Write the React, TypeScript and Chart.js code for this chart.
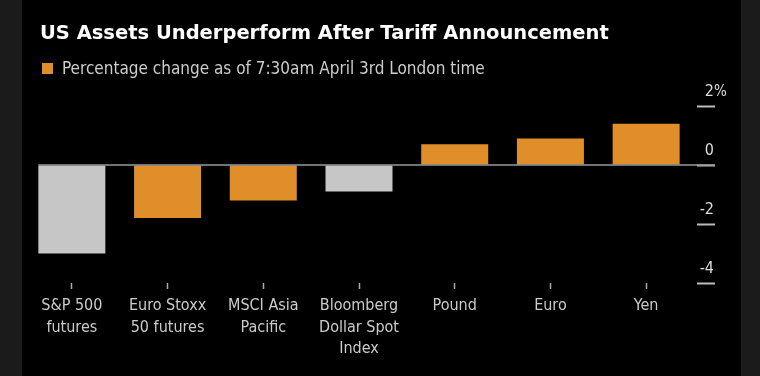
import { useEffect, useRef } from "react";
import { Chart, registerables } from "chart.js";

Chart.register(...registerables);

// ---- data ----
const categories: (string | string[])[] = [
  ["S&P 500", "futures"],
  ["Euro Stoxx", "50 futures"],
  ["MSCI Asia", "Pacific"],
  ["Bloomberg", "Dollar Spot", "Index"],
  "Pound",
  "Euro",
  "Yen",
];
const percentChange = [-3.0, -1.8, -1.2, -0.9, 0.7, 0.9, 1.4];
const isUSAsset = [true, false, false, true, false, false, false];
const yTickValues = [-4, -2, 0, 2];
const titleText = "US Assets Underperform After Tariff Announcement";
const legendText = "Percentage change as of 7:30am April 3rd London time";

const FONT = "'DejaVu Sans Condensed', 'DejaVu Sans', sans-serif";
const TITLE_FONT = "'DejaVu Sans', sans-serif";
const ORANGE = "#e08e2a";
const GRAY = "#c6c6c6";

const decorPlugin = {
  id: "decor",
  beforeDraw(chart: any) {
    const { ctx, width, height } = chart;
    ctx.save();
    ctx.fillStyle = "#1b1b1b";
    ctx.fillRect(0, 0, width, height);
    ctx.fillStyle = "#000000";
    ctx.fillRect(22, 0, 719, height);
    ctx.restore();
  },
  afterDatasetsDraw(chart: any) {
    const { ctx } = chart;
    const y = chart.scales.y.getPixelForValue(0);
    const first = chart.getDatasetMeta(0).data[0] as any;
    const x0 = first.x - first.width / 2;
    const x1 = chart.scales.y.left + 21;
    ctx.save();
    ctx.strokeStyle = "#9a9a9a";
    ctx.lineWidth = 1.5;
    ctx.beginPath();
    ctx.moveTo(x0, y);
    ctx.lineTo(x1, y);
    ctx.stroke();
    ctx.restore();
  },
  afterDraw(chart: any) {
    const { ctx } = chart;
    ctx.save();
    // title
    ctx.fillStyle = "#ffffff";
    ctx.font = `bold 19.5px ${TITLE_FONT}`;
    ctx.textBaseline = "alphabetic";
    ctx.textAlign = "left";
    ctx.fillText(titleText, 40, 39);
    // legend
    ctx.fillStyle = ORANGE;
    ctx.fillRect(42, 63, 11, 11);
    ctx.fillStyle = "#cccccc";
    ctx.font = `17px ${FONT}`;
    ctx.fillText(legendText, 62, 74);
    // percent sign after the top tick label
    const ys = chart.scales.y;
    const top = yTickValues[yTickValues.length - 1];
    ctx.fillStyle = "#dddddd";
    ctx.font = `15px ${FONT}`;
    ctx.textBaseline = "middle";
    ctx.fillText("%", ys.right, ys.getPixelForValue(top) - 14);
    ctx.restore();
  },
};

export default function App() {
  const ref = useRef<HTMLCanvasElement | null>(null);
  useEffect(() => {
    if (!ref.current) return;
    const chart = new Chart(ref.current, {
      type: "bar",
      data: {
        labels: categories,
        datasets: [
          {
            data: percentChange,
            backgroundColor: isUSAsset.map((u) => (u ? GRAY : ORANGE)),
            borderWidth: 0,
            categoryPercentage: 1,
            barPercentage: 0.7,
          },
        ],
      },
      options: {
        responsive: false,
        animation: false,
        devicePixelRatio: 1,
        layout: { padding: { top: 106, left: 24, right: 46, bottom: 0 } },
        plugins: {
          legend: { display: false },
          title: { display: false },
          tooltip: { enabled: false },
        },
        scales: {
          x: {
            grid: {
              offset: false,
              drawOnChartArea: false,
              drawTicks: true,
              tickLength: 6,
              tickColor: "#aaaaaa",
              tickWidth: 1.5,
            },
            border: { display: false },
            ticks: {
              color: "#cccccc",
              padding: 6,
              maxRotation: 0,
              autoSkip: false,
              font: { family: FONT, size: 16, lineHeight: 1.35 },
            },
            afterFit: (s: any) => {
              s.height = 93;
            },
          },
          y: {
            position: "right",
            min: -4,
            max: 2,
            afterBuildTicks: (s: any) => {
              s.ticks = yTickValues.map((v) => ({ value: v }));
            },
            grid: {
              drawOnChartArea: false,
              drawTicks: true,
              tickLength: 21,
              tickColor: "#bbbbbb",
              tickWidth: 2,
              tickBorderDash: [0, 3, 18, 100],
            },
            border: { display: false },
            ticks: {
              color: "#dddddd",
              padding: -21,
              crossAlign: "far",
              labelOffset: -14,
              font: { family: FONT, size: 16 },
              callback: (v: any) => String(v),
            },
            afterFit: (s: any) => {
              s.width = 20;
            },
          },
        },
      },
      plugins: [decorPlugin],
    });
    return () => chart.destroy();
  }, []);
  return (
    <div style={{ position: "fixed", left: 0, top: 0, width: 760, height: 376 }}>
      <canvas ref={ref} width={760} height={376} />
    </div>
  );
}
